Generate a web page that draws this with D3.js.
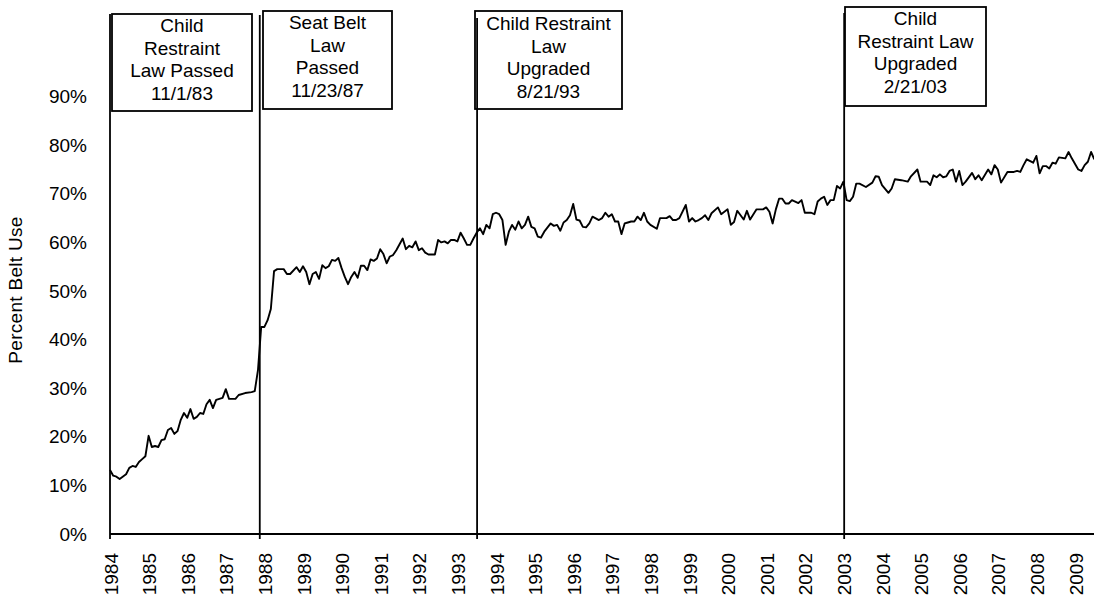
<!DOCTYPE html>
<html><head><meta charset="utf-8">
<script src="https://cdn.jsdelivr.net/npm/d3@7"></script>
<style>
body{margin:0;background:#fff}
svg{display:block}
text{font-family:"Liberation Sans",Arial,sans-serif;fill:#000}
</style>
</head><body>
<svg id="chart" width="1094" height="599"></svg>
<script>
// ---------------- data ----------------
const startYear = 1984;
const yearLabels = ["1984","1985","1986","1987","1988","1989","1990","1991","1992","1993","1994","1995","1996","1997","1998","1999","2000","2001","2002","2003","2004","2005","2006","2007","2008","2009"];
const yTickValues = [0,10,20,30,40,50,60,70,80,90];
const yAxisTitle = "Percent Belt Use";

// months since January 1984
const monthIndex = [
  0,1,2,3,5,6,7,8,9,10,11,12,13,14,15,16,17,18,19,20,21,22,23,24,25,26,27,28,29,30,
  31,32,33,35,36,37,39,40,42,44,45,46,47,48,49,50,51,52,54,55,56,58,59,60,61,62,63,64,65,66,
  67,68,69,70,71,72,73,74,75,76,77,78,79,80,81,82,83,84,85,86,87,88,89,91,92,93,94,95,96,97,
  98,99,101,102,103,104,105,106,107,108,109,110,111,112,113,114,115,116,117,118,119,120,121,122,123,124,125,126,127,128,
  129,130,131,132,133,134,135,137,138,139,140,141,142,143,144,145,146,147,148,149,150,152,153,154,155,156,157,158,159,160,
  161,162,163,164,165,166,167,168,170,171,173,174,175,176,177,179,180,181,182,183,184,185,186,187,189,190,192,193,194,195,
  197,198,199,201,203,204,205,206,207,208,209,210,211,212,213,214,215,216,218,219,220,221,222,223,224,225,226,227,228,229,
  230,231,232,233,235,237,238,239,240,242,243,244,246,248,249,251,252,254,255,256,257,258,259,260,261,262,263,264,265,266,
  268,269,270,271,273,274,275,276,277,279,281,282,283,284,285,287,288,289,290,291,292,293,294,295,297,298,299,301,302,303,
  304,305,306
];
// percent belt use
const beltUse = [
  13.2,12.0,11.8,11.3,12.3,13.6,14.0,13.8,14.8,15.4,16.0,20.2,17.9,18.1,17.9,19.3,19.5,21.4,21.8,20.6,21.2,23.5,24.9,23.9,25.7,23.7,24.1,24.9,24.7,26.7,
  27.6,25.9,27.6,28.0,29.8,27.8,27.8,28.6,29.0,29.2,29.4,33.7,42.6,42.6,44.0,46.3,54.1,54.5,54.5,53.5,53.5,54.9,53.9,55.1,53.9,51.4,53.5,53.9,52.5,55.3,
  54.7,55.1,56.4,56.2,56.8,54.7,52.9,51.4,52.9,53.9,52.7,55.2,55.2,54.3,56.5,56.2,56.7,58.6,57.6,55.7,57.1,57.4,58.4,60.8,58.6,59.3,59.0,60.2,58.4,58.8,
  57.9,57.5,57.5,60.5,60.0,60.2,59.8,60.5,60.5,60.2,62.0,60.8,59.5,59.5,60.8,62.0,62.9,61.7,63.6,62.9,65.8,66.1,65.8,64.6,59.5,62.2,63.6,62.6,64.3,62.9,
  63.6,65.3,63.2,62.9,61.2,61.0,62.2,63.9,63.4,63.6,62.4,64.1,64.6,65.6,67.9,64.7,64.5,63.2,63.1,63.9,65.3,64.6,65.0,66.1,65.3,65.8,64.3,64.3,61.7,63.9,
  64.1,64.3,64.3,65.3,64.6,66.1,64.3,63.6,62.8,65.0,65.0,65.4,64.6,64.6,65.0,67.7,64.3,65.0,64.3,64.6,65.0,65.6,64.6,66.0,67.2,65.8,66.8,63.6,64.2,66.5,
  64.7,66.5,64.7,66.8,66.8,67.2,66.3,63.9,66.8,69.0,69.0,68.0,68.0,68.7,68.4,68.1,68.7,66.1,66.1,65.8,68.4,69.0,69.4,67.7,68.7,68.7,71.6,71.1,72.5,68.7,
  68.5,69.4,72.1,72.1,71.4,72.3,73.6,73.5,71.8,70.2,71.1,73.0,72.8,72.5,73.6,75.0,72.5,72.5,71.8,73.8,73.4,74.0,73.4,73.6,74.7,75.0,72.5,74.7,71.8,72.5,
  74.3,73.0,73.8,72.8,75.0,74.0,75.9,75.0,72.3,74.5,74.5,74.7,74.5,75.9,77.1,76.4,77.8,74.2,75.7,75.7,75.2,76.4,76.2,77.5,77.3,78.6,77.3,75.0,74.7,75.9,
  76.6,78.6,77.1
];

// law annotations (year position of each marker line as drawn)
const lawYears = [1984.0, 1987.88, 1993.51, 2003.02];
const lawText = [
  ["Child","Restraint","Law Passed","11/1/83"],
  ["Seat Belt","Law","Passed","11/23/87"],
  ["Child Restraint","Law","Upgraded","8/21/93"],
  ["Child","Restraint Law","Upgraded","2/21/03"]
];

// ---------------- layout ----------------
const svg = d3.select("#chart");
svg.append("rect").attr("width",1094).attr("height",599).attr("fill","#fff");

const plotLeft = 110, plotBottom = 534, yearWidth = 38.6;
const x = d3.scaleLinear().domain([startYear, startYear + 26]).range([plotLeft, plotLeft + 26*yearWidth]);
const y = d3.scaleLinear().domain([0, 100]).range([plotBottom, plotBottom - 100*4.86]);

const fontSize = 19;

// y axis labels
const yAxis = d3.axisLeft(y).tickValues(yTickValues).tickSize(0).tickPadding(23)
  .tickFormat(d => d + "%");
const gy = svg.append("g").attr("transform", `translate(${plotLeft},0)`).call(yAxis);
gy.select(".domain").remove();
gy.selectAll("text").attr("font-size", fontSize).attr("font-family", '"Liberation Sans", Arial, sans-serif').attr("fill","#000");

// y title
svg.append("text")
  .attr("transform", `translate(22,290) rotate(-90)`)
  .attr("text-anchor","middle")
  .attr("font-size", 19)
  .attr("letter-spacing", 0.3)
  .text(yAxisTitle);

// x axis
const xAxis = d3.axisBottom(x).tickValues(yearLabels.map(Number)).tickSize(0).tickSizeOuter(0)
  .tickFormat(d => String(d));
const gx = svg.append("g").attr("transform", `translate(0,${plotBottom})`).call(xAxis);
gx.select(".domain").remove();
gx.selectAll("text")
  .attr("font-size", fontSize)
  .attr("font-family", '"Liberation Sans", Arial, sans-serif')
  .attr("fill","#000")
  .attr("text-anchor","end")
  .attr("dy", null)
  .attr("y", null)
  .attr("transform", "translate(7,19) rotate(-90)");

svg.append("line")
  .attr("x1", plotLeft).attr("x2", 1094)
  .attr("y1", plotBottom).attr("y2", plotBottom)
  .attr("stroke","#000").attr("stroke-width",1.8);

// data line
const pts = monthIndex.map((m,i) => ({t: startYear + m/12, v: beltUse[i]}));
const line = d3.line().x(d => x(d.t)).y(d => y(d.v));
svg.append("path").datum(pts)
  .attr("d", line)
  .attr("fill","none")
  .attr("stroke","#000")
  .attr("stroke-width",1.9)
  .attr("stroke-linejoin","round");

// annotation boxes
const boxes = [
  {x:112, y:14, w:140, h:97, top:14, base:32},
  {x:263, y:11, w:129, h:98, top:15, base:29},
  {x:475, y:11, w:147, h:98, top:18, base:30},
  {x:845, y:7,  w:141, h:99, top:13, base:25}
];
const lineGap = 22.5;
boxes.forEach((b,i) => {
  svg.append("rect")
    .attr("x", b.x).attr("y", b.y).attr("width", b.w).attr("height", b.h)
    .attr("fill","#fff").attr("stroke","#000").attr("stroke-width",1.8);
  const t = svg.append("text")
    .attr("text-anchor","middle")
    .attr("font-size", fontSize);
  lawText[i].forEach((s,j) => {
    t.append("tspan").attr("x", b.x + b.w/2).attr("y", b.base + j*lineGap).text(s);
  });
  svg.append("line")
    .attr("x1", x(lawYears[i])).attr("x2", x(lawYears[i]))
    .attr("y1", b.top).attr("y2", plotBottom + 5)
    .attr("stroke","#000").attr("stroke-width",1.8);
});
</script>
</body></html>
